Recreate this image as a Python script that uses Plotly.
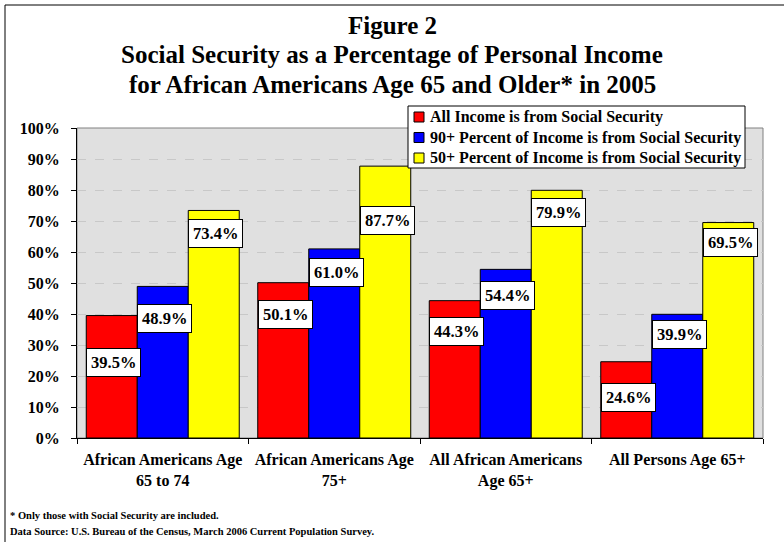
import plotly.graph_objects as go

# ---------------- data ----------------
categories = [
    "African Americans Age<br>65 to 74",
    "African Americans Age<br>75+",
    "All African Americans<br>Age 65+",
    "All Persons Age 65+",
]
series_names = [
    "All Income is from Social Security",
    "90+ Percent of Income is from Social Security",
    "50+ Percent of Income is from Social Security",
]
all_income = [39.5, 50.1, 44.3, 24.6]
ninety_plus = [48.9, 61.0, 54.4, 39.9]
fifty_plus = [73.4, 87.7, 79.9, 69.5]
series_values = [all_income, ninety_plus, fifty_plus]
series_colors = ["#FF0000", "#0000FF", "#FFFF00"]
# heights (in axis units) at which the hand-placed value boxes sit
label_heights = [
    [24.2, 39.7, 34.5, 13.2],
    [38.7, 53.5, 46.1, 33.5],
    [66.1, 70.3, 72.6, 63.2],
]
y_ticks = list(range(0, 101, 10))
y_tick_text = [f"{t}%" for t in y_ticks]
title_lines = [
    "Figure 2",
    "Social Security as a Percentage of Personal Income",
    "for African Americans Age 65 and Older* in 2005",
]
footnotes = [
    "* Only those with Social Security are included.",
    "Data Source: U.S. Bureau of the Census, March 2006 Current Population Survey.",
]

# ---------------- layout geometry ----------------
W, H = 784, 542
ML, MR, MT, MB = 77, 21, 128, 104
PW, PH = W - ML - MR, H - MT - MB
BARGAP = 0.108


def px2x(px):
    return (px - ML) / PW


def px2y(py):
    return (H - MB - py) / PH


FONT = "Liberation Serif, Times New Roman, serif"

fig = go.Figure()
for name, vals, col in zip(series_names, series_values, series_colors):
    fig.add_trace(go.Bar(
        x=categories, y=vals, name=name,
        marker=dict(color=col, line=dict(color="#000000", width=1)),
        showlegend=False,
    ))

annotations = []
bar_w = (1 - BARGAP) / len(series_values)
for i, (vals, hs) in enumerate(zip(series_values, label_heights)):
    for j, (v, h) in enumerate(zip(vals, hs)):
        annotations.append(dict(
            x=j + (i - 1) * bar_w + 0.012, y=h, xref="x", yref="y",
            text=f"{v:.1f}%", showarrow=False,
            font=dict(family=FONT, size=16.5, color="black", weight="bold"),
            bgcolor="white", bordercolor="black", borderwidth=1, borderpad=4,
            xanchor="center", yanchor="middle",
        ))

# title (one annotation per line)
for txt, py in zip(title_lines, [26, 55, 84]):
    annotations.append(dict(
        x=px2x(W / 2), xref="paper", xanchor="center",
        y=px2y(py), yref="paper", yanchor="middle",
        text=txt, showarrow=False,
        font=dict(family=FONT, size=25, color="black", weight="bold"),
    ))

# footnotes
for txt, py in zip(footnotes, [515, 531]):
    annotations.append(dict(
        x=px2x(8), xref="paper", xanchor="left",
        y=px2y(py), yref="paper", yanchor="middle",
        text=txt, showarrow=False,
        font=dict(family=FONT, size=10.5, color="black", weight="bold"),
    ))

shapes = []
# plot area frame (grey)
shapes.append(dict(type="rect", xref="paper", yref="paper", x0=0, x1=1, y0=0, y1=1,
                   line=dict(color="#808080", width=1), layer="below"))
# outer frame
shapes.append(dict(type="rect", xref="paper", yref="paper",
                   x0=px2x(5), x1=px2x(795), y0=px2y(560), y1=px2y(5),
                   line=dict(color="black", width=1), fillcolor="rgba(0,0,0,0)"))
# manual legend
shapes.append(dict(type="rect", xref="paper", yref="paper",
                   x0=px2x(408), x1=px2x(745), y0=px2y(168), y1=px2y(106),
                   line=dict(color="black", width=1), fillcolor="white", layer="above"))
for k, (name, col) in enumerate(zip(series_names, series_colors)):
    cy = 117 + k * 20.5
    shapes.append(dict(type="rect", xref="paper", yref="paper",
                       x0=px2x(414), x1=px2x(424), y0=px2y(cy + 5), y1=px2y(cy - 5),
                       line=dict(color="black", width=1), fillcolor=col, layer="above"))
    annotations.append(dict(
        x=px2x(428), xref="paper", xanchor="left",
        y=px2y(cy), yref="paper", yanchor="middle",
        text=name, showarrow=False,
        font=dict(family=FONT, size=16, color="black", weight="bold"),
    ))

fig.update_layout(
    width=W, height=H,
    margin=dict(l=ML, r=MR, t=MT, b=MB, pad=0),
    paper_bgcolor="white", plot_bgcolor="#E0E0E0",
    barmode="group", bargap=BARGAP, bargroupgap=0,
    showlegend=False,
    font=dict(family=FONT, color="black"),
    annotations=annotations, shapes=shapes,
)
fig.update_xaxes(
    showline=True, linecolor="black", linewidth=1,
    ticks="outside", ticklen=5, tickcolor="black", tickson="boundaries",
    tickfont=dict(family=FONT, size=16, color="black", weight="bold"),
    ticklabelstandoff=7,
    showgrid=False,
)
fig.update_yaxes(
    range=[0, 100], tickmode="array", tickvals=y_ticks, ticktext=y_tick_text,
    showline=True, linecolor="black", linewidth=1,
    ticks="outside", ticklen=5, tickcolor="black",
    tickfont=dict(family=FONT, size=16, color="black", weight="bold"),
    ticklabelstandoff=8,
    showgrid=True, gridcolor="#C8C8C8", griddash="dash", gridwidth=1,
    zeroline=False,
)

fig.write_html("out.html")
